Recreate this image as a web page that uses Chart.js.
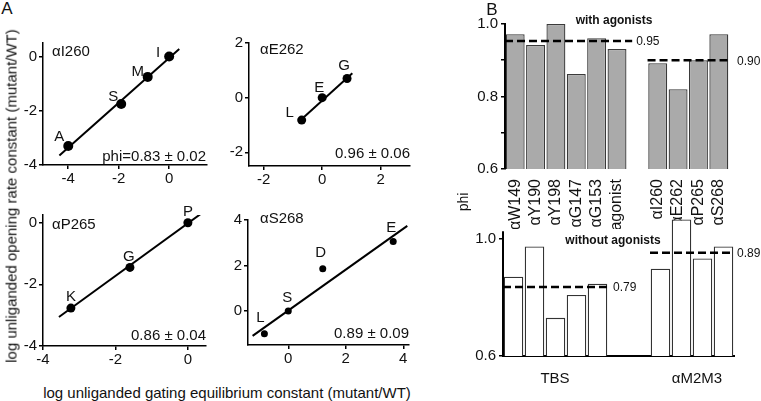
<!DOCTYPE html>
<html>
<head>
<meta charset="utf-8">
<script src="https://cdn.jsdelivr.net/npm/chart.js@4.4.1/dist/chart.umd.min.js"></script>
<style>
  body { margin: 0; width: 761px; height: 401px; position: relative; overflow: hidden; background: #fff;
         font-family: "Liberation Sans", Arial, Helvetica, sans-serif; color: #111; }
  canvas { position: absolute; }
  .t { position: absolute; white-space: nowrap; line-height: 1; }
</style>
</head>
<body>
<script>
const FONT = '"Liberation Sans", Arial, Helvetica, sans-serif';
Chart.defaults.font.family = FONT;
Chart.defaults.color = '#111';

// ---- A: log gating equilibrium constant (x) vs log opening rate constant (y)
const i260Names = ['A', 'S', 'M', 'I'];
const i260X = [-4.0, -1.9, -0.85, 0];
const i260Y = [-3.3, -1.75, -0.75, 0];
const i260FitX = [-4.35, 0.4];
const i260FitY = [-3.65, 0.28];

const e262Names = ['L', 'E', 'G'];
const e262X = [-0.7, 0, 0.85];
const e262Y = [-0.82, 0, 0.7];
const e262FitX = [-0.78, 1.03];
const e262FitY = [-0.86, 0.89];

const p265Names = ['K', 'G', 'P'];
const p265X = [-3.23, -1.6, 0];
const p265Y = [-2.77, -1.45, 0];
const p265FitX = [-3.56, 0.36];
const p265FitY = [-3.06, 0.29];

const s268Names = ['L', 'S', 'D', 'E'];
const s268X = [-0.83, 0, 1.2, 3.65];
const s268Y = [-1.0, 0, 1.85, 3.05];
const s268FitX = [-1.24, 4.14];
const s268FitY = [-1.1, 3.74];

const phiTexts = ['phi=0.83 \u00b1 0.02', '0.96 \u00b1 0.06', '0.86 \u00b1 0.04', '0.89 \u00b1 0.09'];

// ---- B: phi per site
const tbsSites = ['\u03b1W149', '\u03b1Y190', '\u03b1Y198', '\u03b1G147', '\u03b1G153', 'agonist'];
const m2m3Sites = ['\u03b1I260', '\u03b1E262', '\u03b1P265', '\u03b1S268'];
const phiWithTbs = [0.972, 0.942, 1.0, 0.862, 0.961, 0.931];
const phiWithM2m3 = [0.892, 0.82, 0.90, 0.972];
const phiWithoutTbs = [0.87, 0.973, 0.73, 0.808, 0.846];
const phiWithoutM2m3 = [0.897, 1.065, 0.932, 0.973];
const meanWith = [0.953, 0.90];
const meanWithText = ['0.95', '0.90'];
const meanWithout = [0.835, 0.952];
const meanWithoutText = ['0.79', '0.89'];

function mountCanvas(box, m) {
  const c = document.createElement('canvas');
  const w = box.r - box.l + m.l + m.r;
  const h = box.b - box.t + m.t + m.b;
  c.width = w; c.height = h;
  c.style.width = w + 'px'; c.style.height = h + 'px';
  c.style.left = (box.l - m.l) + 'px';
  c.style.top = (box.t - m.t) + 'px';
  document.body.appendChild(c);
  return c;
}

function addText(txt, x, y, o = {}) {
  const d = document.createElement('div');
  d.className = 't';
  d.textContent = txt;
  d.style.left = x + 'px';
  d.style.top = y + 'px';
  d.style.fontSize = (o.size || 15) + 'px';
  if (o.bold) d.style.fontWeight = 'bold';
  const ax = o.align === 'left' ? '0' : o.align === 'right' ? '-100%' : '-50%';
  d.style.transform = `translate(${ax},-50%)` + (o.rot ? ` rotate(${o.rot}deg)` : '');
  document.body.appendChild(d);
}

function scatterPanel(p) {
  const m = { l: 42, t: 20, r: 30, b: 30 };
  const canvas = mountCanvas(p.box, m);
  const pts = p.xs.map((x, i) => ({ x, y: p.ys[i] }));
  const fit = p.fitX.map((x, i) => ({ x, y: p.fitY[i] }));
  const axis = (min, max, ticks, isX) => ({
    type: 'linear', min, max,
    afterBuildTicks: s => { s.ticks = ticks.map(v => ({ value: v })); },
    afterFit: s => { if (isX) s.height = m.b; else s.width = m.l; },
    grid: { drawOnChartArea: false, drawTicks: true, tickLength: 4, color: '#000', lineWidth: 1.5 },
    border: { display: true, color: '#000', width: 1.5 },
    ticks: { font: { size: 15 }, padding: isX ? 1 : 2, maxRotation: 0, color: '#111' }
  });
  new Chart(canvas, {
    type: 'scatter',
    data: {
      datasets: [
        { data: fit, showLine: true, borderColor: '#000', borderWidth: 2, pointRadius: 0 },
        { data: pts, backgroundColor: '#000', borderColor: '#000', pointRadius: p.r, pointBorderWidth: 0 }
      ]
    },
    options: {
      responsive: false, animation: false, devicePixelRatio: 1,
      layout: { padding: { left: 0, top: m.t, right: m.r, bottom: 0 } },
      plugins: { legend: { display: false }, tooltip: { enabled: false } },
      scales: {
        x: axis(p.xr[0], p.xr[1], p.xt, true),
        y: axis(p.yr[0], p.yr[1], p.yt, false)
      }
    },
    plugins: [{
      id: 'mutantNames',
      afterDatasetsDraw(chart) {
        const { ctx, scales: { x, y } } = chart;
        ctx.save();
        ctx.fillStyle = '#111';
        ctx.font = '15px ' + FONT;
        ctx.textAlign = 'center';
        ctx.textBaseline = 'middle';
        p.names.forEach((n, i) => {
          const [dx, dy] = p.nameOff[i];
          ctx.fillText(n, x.getPixelForValue(p.xs[i]) + dx, y.getPixelForValue(p.ys[i]) + dy);
        });
        ctx.restore();
      }
    }]
  });
}

function barPanel(p) {
  const m = { l: 45, t: 25, r: 36, b: p.bottom };
  const canvas = mountCanvas(p.box, m);
  const gap = Array(p.gap).fill(null);
  const labels = [...p.leftNames, ...gap.map(() => ''), ...p.rightNames];
  const values = [...p.leftVals, ...gap, ...p.rightVals];
  const groups = [
    { i0: 0, i1: p.leftVals.length - 1, v: p.means[0], txt: p.meanText[0], ext: p.ext[0], pad: p.pad[0] },
    { i0: p.leftVals.length + p.gap, i1: labels.length - 1, v: p.means[1], txt: p.meanText[1], ext: p.ext[1], pad: p.pad[1] }
  ];
  new Chart(canvas, {
    type: 'bar',
    data: {
      labels,
      datasets: [{ data: values, backgroundColor: p.fill, borderColor: p.edge, borderWidth: 1.3,
                   barPercentage: 0.93, categoryPercentage: 1 }]
    },
    options: {
      responsive: false, animation: false, devicePixelRatio: 1,
      layout: { padding: { left: 0, top: m.t, right: m.r, bottom: 0 } },
      plugins: { legend: { display: false }, tooltip: { enabled: false } },
      scales: {
        x: {
          afterFit: s => { s.height = m.b; },
          grid: { display: false },
          border: { display: p.xBorder, color: '#000', width: 2 },
          ticks: { display: p.showNames, autoSkip: false, minRotation: 90, maxRotation: 90,
                   font: { size: 16 }, padding: 2, color: '#111' }
        },
        y: {
          min: p.yr[0], max: p.yr[1],
          afterBuildTicks: s => { s.ticks = p.yt.map(v => ({ value: v })); },
          afterFit: s => { s.width = m.l; },
          grid: { drawOnChartArea: false, drawTicks: true, tickLength: 4, color: '#000', lineWidth: 1.5 },
          border: { display: p.yBorder, color: '#000', width: 2 },
          ticks: { font: { size: 15 }, padding: 3, color: '#111',
                   callback: v => p.ytLabeled.includes(v) ? v.toFixed(1) : '' }
        }
      }
    },
    plugins: [{
      id: 'meanLines',
      afterDatasetsDraw(chart) {
        const { ctx, scales: { x, y }, chartArea } = chart;
        const slot = x.width / labels.length;
        ctx.save();
        if (!p.yBorder) {
          ctx.strokeStyle = '#000';
          ctx.lineWidth = 2;
          ctx.beginPath();
          ctx.moveTo(chartArea.left, y.getPixelForValue(p.yr[0]));
          ctx.lineTo(chartArea.left, y.getPixelForValue(p.axisTop));
          ctx.stroke();
        }
        ctx.strokeStyle = '#000';
        ctx.lineWidth = 2.5;
        ctx.setLineDash([8, 4]);
        ctx.font = '12px ' + FONT;
        ctx.fillStyle = '#111';
        ctx.textBaseline = 'middle';
        groups.forEach(g => {
          const x0 = x.getPixelForValue(g.i0) - slot / 2;
          const x1 = x.getPixelForValue(g.i1) + slot / 2 + g.ext;
          const yy = y.getPixelForValue(g.v);
          ctx.beginPath();
          ctx.moveTo(x0, yy);
          ctx.lineTo(x1, yy);
          ctx.stroke();
          ctx.fillText(g.txt, x1 + g.pad, yy + 1);
        });
        ctx.restore();
      }
    }]
  });
}

scatterPanel({
  box: { l: 43, r: 207, t: 43, b: 165 }, xr: [-5, 1.5], yr: [-4, 0.5], xt: [-4, -2, 0], yt: [-4, -2, 0],
  xs: i260X, ys: i260Y, fitX: i260FitX, fitY: i260FitY, names: i260Names, r: 5,
  nameOff: [[-9, -9], [-8, -7], [-10, -5], [-11, -4]]
});
scatterPanel({
  box: { l: 249, r: 410, t: 43, b: 166 }, xr: [-2.5, 3], yr: [-2.5, 2], xt: [-2, 0, 2], yt: [-2, 0, 2],
  xs: e262X, ys: e262Y, fitX: e262FitX, fitY: e262FitY, names: e262Names, r: 4.5,
  nameOff: [[-12, -7], [-3, -10], [-3, -13]]
});
scatterPanel({
  box: { l: 43, r: 206, t: 215, b: 346 }, xr: [-4, 0.5], yr: [-4, 0.25], xt: [-4, -2, 0], yt: [-4, -2, 0],
  xs: p265X, ys: p265Y, fitX: p265FitX, fitY: p265FitY, names: p265Names, r: 4.5,
  nameOff: [[0, -11], [-1, -11], [0, -11]]
});
scatterPanel({
  box: { l: 248, r: 409, t: 220, b: 345 }, xr: [-1.4, 4.2], yr: [-1.5, 4], xt: [0, 2, 4], yt: [0, 2, 4],
  xs: s268X, ys: s268Y, fitX: s268FitX, fitY: s268FitY, names: s268Names, r: 3.5,
  nameOff: [[-4, -16], [-1, -13], [-2, -16], [-2, -14]]
});

barPanel({
  box: { l: 505, r: 729, t: 24, b: 169 }, bottom: 60,
  yr: [0.6, 1.0], yt: [0.6, 0.7, 0.8, 0.9, 1.0], ytLabeled: [0.6, 0.8, 1.0],
  leftNames: tbsSites, rightNames: m2m3Sites, leftVals: phiWithTbs, rightVals: phiWithM2m3, gap: 1,
  means: meanWith, meanText: meanWithText, ext: [5, 1], pad: [4, 7],
  fill: '#aaaaaa', edge: '#3a3a3a', showNames: true, xBorder: false, yBorder: true
});
barPanel({
  box: { l: 503, r: 734, t: 218, b: 356 }, bottom: 40,
  yr: [0.6, 1.07], yt: [0.6, 1.0], ytLabeled: [0.6, 1.0], axisTop: 1.025,
  leftNames: tbsSites.slice(0, 5), rightNames: m2m3Sites, leftVals: phiWithoutTbs, rightVals: phiWithoutM2m3, gap: 2,
  means: meanWithout, meanText: meanWithoutText, ext: [0, 0], pad: [5, 3],
  fill: '#ffffff', edge: '#333333', showNames: false, xBorder: true, yBorder: false
});

// labels and annotations
addText('A', 7, 8, { size: 17 });
addText('B', 492, 9, { size: 17 });
addText('log unliganded opening rate constant (mutant/WT)', 11, 196, { rot: -90 });
addText('log unliganded gating equilibrium constant (mutant/WT)', 227, 392);
addText('\u03b1I260', 52, 50, { align: 'left' });
addText('\u03b1E262', 260, 48, { align: 'left' });
addText('\u03b1P265', 52, 223, { align: 'left' });
addText('\u03b1S268', 260, 217, { align: 'left' });
addText(phiTexts[0], 206, 155, { align: 'right' });
addText(phiTexts[1], 410, 152, { align: 'right' });
addText(phiTexts[2], 206, 334, { align: 'right' });
addText(phiTexts[3], 409, 332, { align: 'right' });
addText('phi', 463, 202, { size: 14, rot: -90 });
addText('with agonists', 614, 20, { size: 12, bold: true });
addText('without agonists', 613, 240, { size: 12, bold: true });
addText('TBS', 555, 377);
addText('\u03b1M2M3', 697, 377);
</script>
</body>
</html>
